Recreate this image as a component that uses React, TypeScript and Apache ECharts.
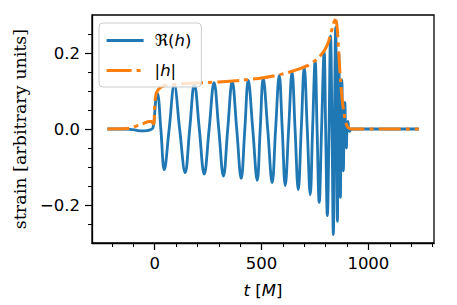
import React, { useEffect, useRef } from "react";
import * as echarts from "echarts";

// ---- data ----
// real part of the strain: time [M] and value
const tRe = [
  -221, -150, -110, -80, -50, -25, -8, 0, 7, 13, 29, 45, 68, 92, 117, 143, 164, 186, 209, 232,
  255, 278, 300, 322, 342, 363, 384, 405, 422, 438, 459, 480, 494, 508, 529, 550, 566, 583, 597,
  611, 627, 643, 657, 672, 686, 700, 714, 728, 739, 751, 760, 770, 781, 793, 800, 808, 816, 823,
  830, 836, 841, 847, 851, 855, 858, 862, 865, 869, 872, 876, 879, 883, 886, 890, 893, 897, 900,
  904, 908, 912, 920, 1236,
];
const reVals = [
  0, 0, -0.001, -0.004, -0.005, -0.003, 0.003, 0.04, 0.085, 0.093, 0.0, -0.107, 0.0, 0.116, 0.0,
  -0.115, 0.0, 0.119, 0.0, -0.119, 0.0, 0.122, 0.0, -0.124, 0.0, 0.125, 0.0, -0.13, 0.0, 0.128,
  0.0, -0.135, 0.0, 0.133, 0.0, -0.141, 0.0, 0.141, 0.0, -0.149, 0.0, 0.15, 0.0, -0.16, 0.0, 0.162,
  0.0, -0.173, 0.0, 0.178, 0.0, -0.193, 0.0, 0.202, 0.0, -0.228, 0.0, 0.245, 0.0, -0.278, 0.0,
  0.268, 0.0, -0.243, 0.0, 0.2, 0.0, -0.18, 0.0, 0.13, 0.0, -0.11, 0.0, 0.07, 0.0, -0.05, 0.0,
  0.02, 0.0, -0.006, 0.0, 0.0,
];

// amplitude |h|: time [M] and value
const tAbs = [
  -221, -130, -100, -70, -45, -28, -15, -6, -2, 1, 8, 25, 50, 100, 200, 300, 400, 500, 560, 620,
  680, 720, 760, 790, 810, 825, 835, 843, 849, 855, 860, 865, 870, 876, 884, 892, 900, 910, 925,
  1236,
];
const absVals = [
  0.0, 0.001, 0.005, 0.011, 0.016, 0.02, 0.02, 0.013, 0.02, 0.07, 0.095, 0.108, 0.115, 0.118,
  0.121, 0.124, 0.128, 0.134, 0.14, 0.148, 0.159, 0.168, 0.184, 0.203, 0.224, 0.252, 0.274, 0.287,
  0.285, 0.26, 0.215, 0.165, 0.125, 0.085, 0.048, 0.022, 0.008, 0.002, 0, 0,
];

// axes
const xMajor = [0, 500, 1000];
const xMinor = [-200, -100, 100, 200, 300, 400, 600, 700, 800, 900, 1100, 1200, 1300];
const yMajor = [-0.2, 0.0, 0.2];
const yMinor = [-0.25, -0.15, -0.1, -0.05, 0.05, 0.1, 0.15, 0.25];
const X_MIN = -293;
const X_MAX = 1307;
const Y_MIN = -0.3;
const Y_MAX = 0.3;

const W = 457;
const H = 305;
const SANS = "DejaVu Sans";
const SERIF = "DejaVu Serif";
const FS = 16.5;
const BLUE = "#1f77b4";
const ORANGE = "#ff7f0e";
const DASH = [22, 5, 4, 5];

export default function App() {
  const ref = useRef<HTMLDivElement>(null);

  useEffect(() => {
    if (!ref.current) return;
    const chart = echarts.init(ref.current, null, { renderer: "svg", width: W, height: H });
    const black = "#000";
    const option: any = {
      animation: false,
      backgroundColor: "#fff",
      grid: {
        left: 92,
        right: 23,
        top: 15,
        bottom: 62,
        show: true,
        borderColor: black,
        borderWidth: 1.3,
        containLabel: false,
      },
      legend: {
        orient: "vertical",
        left: 99,
        top: 23,
        itemWidth: 37,
        itemHeight: 14,
        itemGap: 13,
        padding: [9, 10, 8, 6],
        backgroundColor: "rgba(255,255,255,0.8)",
        borderColor: "#cccccc",
        borderWidth: 1,
        borderRadius: 4,
        itemStyle: { opacity: 0, borderWidth: 0 },
        formatter: (n: string) => (n === "re" ? "{g|}ℜ({i|h})" : "{g|}|{i|h}|"),
        textStyle: {
          fontFamily: SANS,
          fontSize: FS,
          color: black,
          rich: {
            i: { fontFamily: SANS, fontSize: FS, fontStyle: "italic", color: black },
            g: { width: 6 },
          },
        },
        data: [
          { name: "re", lineStyle: { width: 3, color: BLUE } },
          { name: "abs", lineStyle: { width: 3.2, color: ORANGE, type: [25, 5, 4, 5] } },
        ],
      },
      xAxis: [
        {
          type: "value",
          min: X_MIN,
          max: X_MAX,
          position: "bottom",
          axisLine: { show: true, onZero: false, lineStyle: { color: black, width: 1.3 } },
          axisTick: { show: true, customValues: xMajor, length: 7, lineStyle: { color: black, width: 1.2 } },
          axisLabel: {
            customValues: xMajor,
            margin: 12,
            color: black,
            fontFamily: SANS,
            fontSize: FS,
            formatter: (v: number) => String(v),
          },
          splitLine: { show: false },
          name: "{i|t} [{i|M}]",
          nameLocation: "middle",
          nameGap: 39,
          nameTextStyle: {
            fontFamily: SANS,
            fontSize: FS,
            color: black,
            rich: { i: { fontFamily: SANS, fontSize: FS, fontStyle: "italic", color: black } },
          },
        },
        {
          type: "value",
          min: X_MIN,
          max: X_MAX,
          position: "bottom",
          axisLine: { show: false, onZero: false },
          axisTick: { show: true, customValues: xMinor, length: 4, lineStyle: { color: black, width: 1 } },
          axisLabel: { show: false },
          splitLine: { show: false },
        },
      ],
      yAxis: [
        {
          type: "value",
          min: Y_MIN,
          max: Y_MAX,
          position: "left",
          axisLine: { show: true, onZero: false, lineStyle: { color: black, width: 1.3 } },
          axisTick: { show: true, customValues: yMajor, length: 7, lineStyle: { color: black, width: 1.2 } },
          axisLabel: {
            customValues: yMajor,
            margin: 12,
            color: black,
            fontFamily: SANS,
            fontSize: FS,
            formatter: (v: number) => v.toFixed(1).replace("-", "\u2212"),
          },
          splitLine: { show: false },
          name: "strain [arbitrary units]",
          nameLocation: "middle",
          nameRotate: 90,
          nameGap: 60,
          nameTextStyle: { fontFamily: SERIF, fontSize: 17.5, color: black },
        },
        {
          type: "value",
          min: Y_MIN,
          max: Y_MAX,
          position: "left",
          axisLine: { show: false, onZero: false },
          axisTick: { show: true, customValues: yMinor, length: 4, lineStyle: { color: black, width: 1 } },
          axisLabel: { show: false },
          splitLine: { show: false },
        },
      ],
      series: [
        {
          name: "re",
          type: "line",
          xAxisIndex: 0,
          yAxisIndex: 0,
          data: tRe.map((t, i) => [t, reVals[i]]),
          symbol: "none",
          showSymbol: false,
          smooth: 0.4,
          lineStyle: { color: BLUE, width: 2.8 },
          itemStyle: { color: BLUE },
          z: 2,
        },
        {
          name: "abs",
          type: "line",
          xAxisIndex: 0,
          yAxisIndex: 0,
          data: tAbs.map((t, i) => [t, absVals[i]]),
          symbol: "none",
          showSymbol: false,
          smooth: 0.2,
          lineStyle: { color: ORANGE, width: 3, type: DASH },
          itemStyle: { color: ORANGE },
          z: 3,
        },
      ],
    };
    chart.setOption(option);
    return () => chart.dispose();
  }, []);

  return (
    <div
      ref={ref}
      style={{ position: "fixed", left: 0, top: 0, width: W, height: H, background: "#fff" }}
    />
  );
}
